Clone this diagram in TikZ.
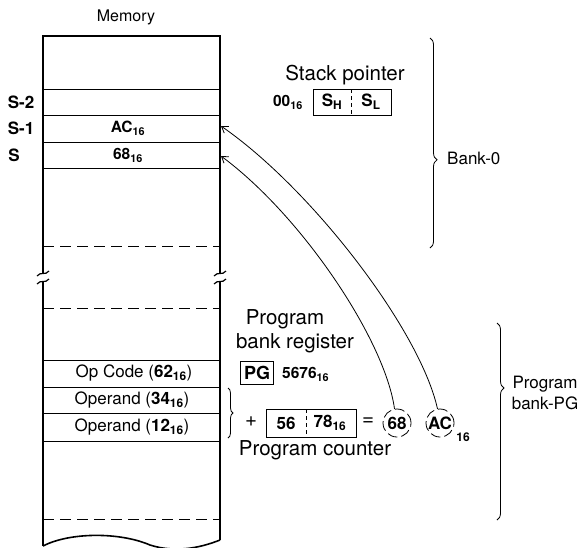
\documentclass[tikz,border=0pt]{standalone}
\usepackage{fontspec}
\setmainfont{TeX Gyre Heros}
\usetikzlibrary{arrows.meta,decorations.pathreplacing}
\newcommand{\hexv}[1]{#1\textsubscript{16}}

\begin{document}
\begin{tikzpicture}[x=1pt, y=-1pt,
  every node/.style={inner sep=0pt, font=\fontsize{16}{18}\selectfont},
  big/.style={font=\fontsize{20.5}{24}\selectfont},
  mid/.style={font=\fontsize{17}{21}\selectfont},
  bmid/.style={font=\fontsize{17}{19}\selectfont\bfseries},
  bsmall/.style={font=\fontsize{15.5}{17}\selectfont\bfseries},
  wall/.style={line width=1.6pt},
  rowline/.style={line width=0.9pt},
  gapline/.style={line width=0.9pt, dash pattern=on 11pt off 6pt},
  regline/.style={line width=0.8pt},
  divline/.style={line width=0.8pt, dash pattern=on 4pt off 3pt},
  tmpcirc/.style={circle, draw, line width=0.8pt, dash pattern=on 10pt off 4pt,
    minimum size=28pt, font=\fontsize{17}{19}\selectfont\bfseries},
  ptr/.style={line width=0.8pt, -{Straight Barb[length=6pt,width=8pt]}},
  bankbrace/.style={line width=0.8pt, decorate, decoration={brace, amplitude=7pt}}]
  \useasboundingbox (0,0) rectangle (577,547);

  % memory column
  \node (memtitle) at (126,17) {Memory};
  \draw[wall] (43,273) -- (43,36) -- (220,36) -- (220,273);
  \draw[wall] (43,282) -- (43,546);
  \draw[wall] (220,282) -- (220,540);
  \draw[wall] (43,546) .. controls (70,532) and (120,532) .. (150,545)
    .. controls (175,553) and (200,548) .. (220,540);
  \foreach \x in {43,220} {
    \draw[line width=1.2pt] (\x-6,276) .. controls (\x-2,271) and (\x+2,276) .. (\x+6,271);
    \draw[line width=1.2pt] (\x-6,284) .. controls (\x-2,279) and (\x+2,284) .. (\x+6,279);
  }
  \foreach \y in {89,115,142,168,360,387,413,441}
    \draw[rowline] (43,\y) -- (220,\y);
  \foreach \y in {246,308,519}
    \draw[gapline] (43,\y) -- (220,\y);

  % stack rows
  \node[bmid] (lsm2) at (21,102) {S-2};
  \node[bmid] (lsm1) at (21,128) {S-1};
  \node[bmid] (ls)   at (14,155) {S};
  \node[bsmall] (cac) at (128,128) {\hexv{AC}};
  \node[bsmall] (c68) at (128,155) {\hexv{68}};
  \coordinate (msm1) at (221,126);
  \coordinate (ms)   at (221,156);

  % program rows
  \node[mid] (opc)  at (134,373) {Op Code (\textbf{\hexv{62}})};
  \node[mid] (opr1) at (132,400) {Operand (\textbf{\hexv{34}})};
  \node[mid] (opr2) at (132,427) {Operand (\textbf{\hexv{12}})};
  \draw[bankbrace, decoration={amplitude=5pt}] (228,388) -- (228,438);

  % stack pointer
  \node[big] (sptxt) at (345,75) {Stack pointer};
  \node[bsmall] (spbank) at (288,102) {\hexv{00}};
  \draw[regline] (313,89) rectangle (391,115);
  \draw[divline] (351,89) -- (351,115);
  \node[bmid] (sph) at (332,102) {S\textsubscript{H}};
  \node[bmid] (spl) at (371,102) {S\textsubscript{L}};

  % program bank register
  \node[big] (pbtxt1) at (285,319) {Program};
  \node[big] (pbtxt2) at (295,343) {bank register};
  \node[draw, line width=0.8pt, minimum width=33pt, minimum height=23pt,
    font=\fontsize{18}{20}\selectfont\bfseries] (pg) at (257,373) {PG};
  \node[bsmall, anchor=west] (pgval) at (282,374) {\hexv{5676}};

  % program counter
  \node[big] (plus) at (251,422) {+};
  \draw[regline] (266,409) rectangle (356,437);
  \draw[divline] (306,409) -- (306,437);
  \node[bmid] (pch) at (286,423) {56};
  \node[bmid] (pcl) at (330,423) {\hexv{78}};
  \node[big] (eq) at (368,422) {=};
  \node[big] (pctxt) at (315,450) {Program counter};

  % effective stack data
  \node[tmpcirc] (t68) at (397,423) {68};
  \node[tmpcirc] (tac) at (440,423) {AC};
  \node[font=\fontsize{12}{14}\selectfont\bfseries] (t16) at (463,437) {16};
  \draw[ptr] (t68.100) .. controls (385,340) and (302,216) .. (ms);
  \draw[ptr] (tac.100) .. controls (420,330) and (312,189) .. (msm1);

  % banks
  \draw[bankbrace, decoration={aspect=0.58}] (430,38) -- (430,248);
  \node[mid, anchor=west] (bank0) at (447,158) {Bank-0};
  \draw[bankbrace, decoration={aspect=0.33}] (497,323) -- (497,520);
  \node[mid, align=center] (bankpg) at (545,393) {Program\\bank-PG};
\end{tikzpicture}
\end{document}
